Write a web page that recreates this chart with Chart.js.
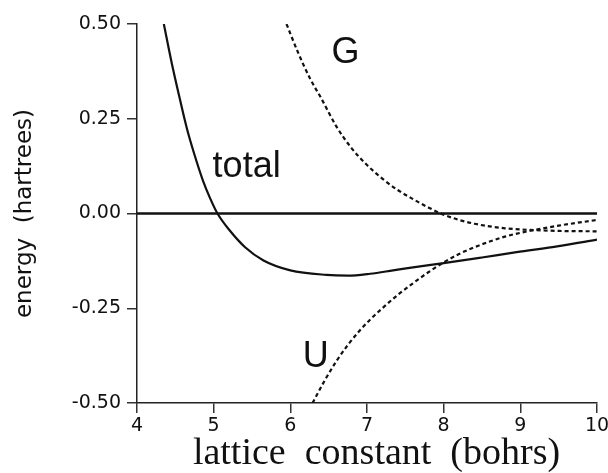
<!DOCTYPE html>
<html lang="en">
<head>
    <meta charset="UTF-8">
    <title>energy vs lattice constant</title>
    <script src="https://cdn.jsdelivr.net/npm/chart.js"></script>
    <style>
        html, body { margin: 0; padding: 0; background: #fff; }
        .chart-container { width: 608px; height: 473px; }
    </style>
</head>
<body>
    <div class="chart-container">
        <canvas id="energyChart" width="608" height="473"></canvas>
    </div>

    <script>
        // total energy (solid)
        const totalX = [4.35, 4.45, 4.55, 4.65, 4.75, 4.86, 4.95, 5.05, 5.21, 5.41, 5.65, 6.0, 6.47, 6.75, 7.04, 7.34, 7.6, 8.0, 8.5, 8.95, 9.5, 10];
        const totalY = [0.50, 0.40, 0.31, 0.225, 0.155, 0.087, 0.042, 0.0, -0.045, -0.089, -0.124, -0.150, -0.162, -0.164, -0.159, -0.150, -0.142, -0.131, -0.116, -0.102, -0.086, -0.069];

        // G (dashed, from above)
        const gX = [5.95, 6.1, 6.26, 6.4, 6.6, 6.8, 7.0, 7.2, 7.4, 7.6, 7.8, 8.0, 8.2, 8.4, 8.6, 8.8, 9.0, 9.5, 10];
        const gY = [0.50, 0.425, 0.355, 0.305, 0.23, 0.172, 0.128, 0.092, 0.062, 0.038, 0.016, -0.003, -0.017, -0.027, -0.034, -0.039, -0.042, -0.046, -0.047];

        // U (dashed, from below)
        const uX = [6.29, 6.45, 6.6, 6.75, 6.9, 7.05, 7.2, 7.4, 7.6, 7.8, 8.0, 8.2, 8.4, 8.6, 8.8, 9.0, 9.2, 9.5, 10];
        const uY = [-0.50, -0.44, -0.39, -0.347, -0.31, -0.278, -0.25, -0.215, -0.184, -0.155, -0.129, -0.107, -0.089, -0.074, -0.061, -0.051, -0.043, -0.032, -0.017];

        // zero reference line
        const zeroX = [4, 10];
        const zeroY = [0, 0];

        // curve labels (data units, baseline)
        const labelText = ['total', 'G', 'U'];
        const labelX = [5.43, 6.72, 6.33];
        const labelY = [0.095, 0.398, -0.404];

        const toPoints = (xs, ys) => xs.map((x, i) => ({ x: x, y: ys[i] }));

        const curveLabels = {
            id: 'curveLabels',
            afterDatasetsDraw(chart) {
                const { ctx, scales: { x, y } } = chart;
                ctx.save();
                ctx.font = '36px "Liberation Sans", Arial, sans-serif';
                ctx.fillStyle = '#111';
                ctx.textAlign = 'center';
                ctx.textBaseline = 'alphabetic';
                labelText.forEach((t, i) => {
                    ctx.fillText(t, x.getPixelForValue(labelX[i]), y.getPixelForValue(labelY[i]));
                });
                ctx.restore();
            }
        };

        const lineStyle = { showLine: true, pointRadius: 0, fill: false, borderColor: '#111', cubicInterpolationMode: 'monotone' };

        const ctx = document.getElementById('energyChart').getContext('2d');
        new Chart(ctx, {
            type: 'scatter',
            data: {
                datasets: [
                    Object.assign({ data: toPoints(zeroX, zeroY), borderWidth: 2.5 }, lineStyle),
                    Object.assign({ data: toPoints(totalX, totalY), borderWidth: 2.2 }, lineStyle),
                    Object.assign({ data: toPoints(gX, gY), borderWidth: 2.2, borderDash: [4, 3] }, lineStyle),
                    Object.assign({ data: toPoints(uX, uY), borderWidth: 2.2, borderDash: [4, 3] }, lineStyle)
                ]
            },
            options: {
                responsive: false,
                animation: false,
                layout: { padding: { left: 0, right: 11, top: 24, bottom: 0 } },
                plugins: { legend: { display: false }, tooltip: { enabled: false } },
                scales: {
                    x: {
                        type: 'linear',
                        min: 4, max: 10,
                        afterFit: s => { s.height = 70; s.paddingLeft = 0; s.paddingRight = 0; },
                        ticks: { stepSize: 1, padding: 2, color: '#111', font: { family: '"DejaVu Sans"', size: 19 } },
                        grid: { drawOnChartArea: false, drawTicks: true, tickLength: 10, color: '#333', lineWidth: 1.5 },
                        border: { display: true, color: '#222', width: 1.5 },
                        title: {
                            display: true,
                            text: '  lattice  constant  (bohrs)',
                            color: '#111',
                            padding: { top: 0, bottom: 0 },
                            font: { family: '"Liberation Serif", "Times New Roman", serif', size: 38, lineHeight: 1 }
                        }
                    },
                    y: {
                        min: -0.5, max: 0.5,
                        afterFit: s => { s.width = 137; s.paddingTop = 0; s.paddingBottom = 0; },
                        ticks: {
                            stepSize: 0.25,
                            padding: 6,
                            color: '#111',
                            font: { family: '"DejaVu Sans"', size: 19 },
                            callback: v => v.toFixed(2)
                        },
                        grid: { drawOnChartArea: false, drawTicks: true, tickLength: 10, color: '#333', lineWidth: 1.5 },
                        border: { display: true, color: '#222', width: 1.5 },
                        title: {
                            display: true,
                            text: 'energy  (hartrees)',
                            color: '#111',
                            padding: { top: 11, bottom: 0 },
                            font: { family: '"DejaVu Sans"', size: 23 }
                        }
                    }
                }
            },
            plugins: [curveLabels]
        });
    </script>
</body>
</html>
